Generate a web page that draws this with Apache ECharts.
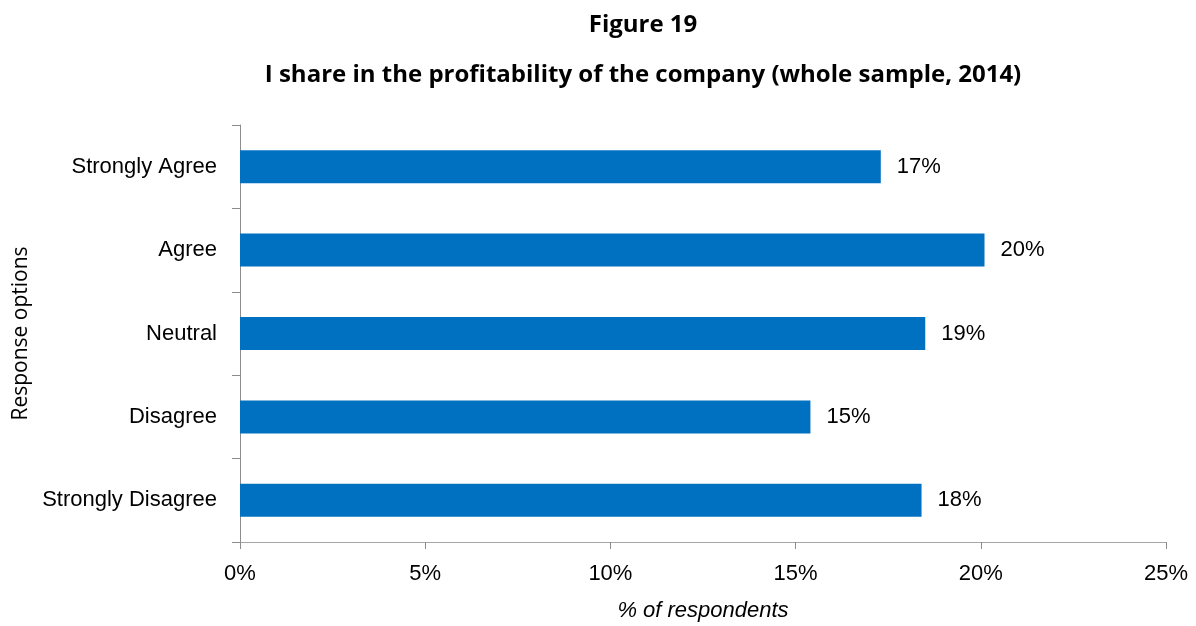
<!DOCTYPE html>
<html>
<head>
<meta charset="utf-8">
<script src="https://cdn.jsdelivr.net/npm/echarts@6/dist/echarts.min.js"></script>
<style>
  html, body { margin: 0; padding: 0; background: #ffffff; }
  #chart { width: 1196px; height: 626px; }
</style>
</head>
<body>
<div id="chart"></div>
<script>
const titleLine1 = 'Figure 19';
const titleLine2 = 'I share in the profitability of the company (whole sample, 2014)';
const categories = ['Strongly Agree', 'Agree', 'Neutral', 'Disagree', 'Strongly Disagree'];
const values = [17.3, 20.1, 18.5, 15.4, 18.4];
const xTicks = [0, 5, 10, 15, 20, 25];
const yAxisTitle = 'Response options';
const xAxisTitle = '% of respondents';

const narrow = "'Liberation Sans', Arial, sans-serif";
const chart = echarts.init(document.getElementById('chart'), null, { renderer: 'canvas' });
chart.setOption({
  backgroundColor: '#ffffff',
  animation: false,
  title: [
    { text: titleLine1, left: 638, top: 20, textAlign: 'center', textVerticalAlign: 'middle',
      textStyle: { fontFamily: "'Open Sans', sans-serif", fontWeight: 'bold', fontSize: 24, color: '#000' } },
    { text: titleLine2, left: 638, top: 70, textAlign: 'center', textVerticalAlign: 'middle',
      textStyle: { fontFamily: "'Open Sans', sans-serif", fontWeight: 'bold', fontSize: 24, color: '#000' } }
  ],
  grid: { left: 240, right: 30, top: 125, bottom: 84, containLabel: false, outerBoundsMode: 'none' },
  xAxis: {
    type: 'value', min: xTicks[0], max: xTicks[xTicks.length - 1], interval: 5,
    name: xAxisTitle, nameLocation: 'middle', nameGap: 58,
    nameTextStyle: { fontFamily: narrow, fontStyle: 'italic', fontSize: 22, color: '#000' },
    axisLine: { show: true, lineStyle: { color: '#a6a6a6', width: 1 } },
    axisTick: { show: true, length: 7, lineStyle: { color: '#8c8c8c' } },
    splitLine: { show: false },
    axisLabel: { margin: 21, fontFamily: narrow, fontSize: 22, color: '#000', formatter: v => v + '%' }
  },
  yAxis: {
    type: 'category', data: categories, inverse: true,
    name: yAxisTitle, nameLocation: 'middle', nameGap: 208, nameRotate: 90,
    nameTextStyle: { fontFamily: "'Open Sans', sans-serif", fontSize: 21, color: '#000' },
    axisLine: { show: true, lineStyle: { color: '#8c8c8c', width: 1 } },
    axisTick: { show: true, length: 8, interval: 0, alignWithLabel: false, lineStyle: { color: '#8c8c8c' } },
    axisLabel: { margin: 23, fontFamily: narrow, fontSize: 22, color: '#000' }
  },
  series: [{
    type: 'bar', data: values, barWidth: 33,
    itemStyle: { color: '#0070c0' },
    label: { show: true, position: 'right', distance: 16, fontFamily: narrow, fontSize: 22, color: '#000',
      formatter: p => Math.round(p.value) + '%' }
  }]
});
</script>
</body>
</html>
